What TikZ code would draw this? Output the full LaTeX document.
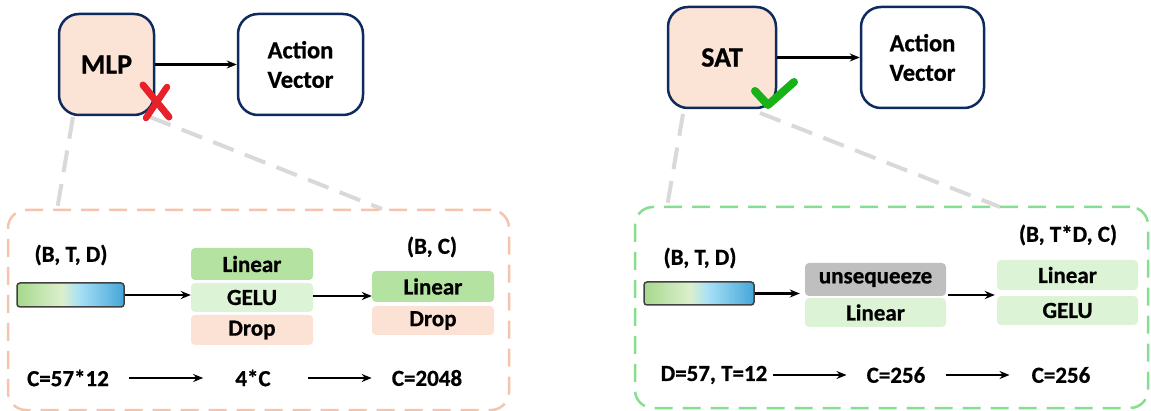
\documentclass[tikz,border=0pt]{standalone}
\usepackage{fontspec}
\setmainfont{Carlito}[BoldFeatures={FakeBold=0.7}]
\usetikzlibrary{arrows.meta}

\definecolor{navy}{HTML}{0E2A5E}
\definecolor{peach}{HTML}{FBE3D6}
\definecolor{peachline}{HTML}{F5C4AC}
\definecolor{greenline}{HTML}{86DE8E}
\definecolor{guidegray}{HTML}{D9D9D9}
\definecolor{lindark}{HTML}{B4E2A1}
\definecolor{linlight}{HTML}{DDF3D5}
\definecolor{dropc}{HTML}{FBE2D5}
\definecolor{unsq}{HTML}{BFBFBF}
\definecolor{barg}{HTML}{A6D98C}
\definecolor{barp}{HTML}{DCEFCD}
\definecolor{barl}{HTML}{A8E0F6}
\definecolor{barb}{HTML}{45A6D8}
\definecolor{crossred}{HTML}{E8202A}
\definecolor{checkgreen}{HTML}{16B216}

% feature tensor bar: green -> pale -> light blue -> blue
\pgfdeclarehorizontalshading{featbar}{100bp}{color(0bp)=(barg); color(25bp)=(barg); color(46bp)=(barp); color(54bp)=(barl); color(75bp)=(barb); color(100bp)=(barb)}

\tikzset{
  txt/.style={font=\fontsize{23}{28}\selectfont\bfseries, inner sep=0pt},
  model/.style={draw=navy, line width=2.5pt, rounded corners=20pt, fill=peach,
    font=\fontsize{28}{32}\selectfont\bfseries, inner sep=0pt},
  outbox/.style={draw=navy, line width=2.5pt, rounded corners=20pt, fill=white,
    align=center, font=\fontsize{24.5}{29.5}\selectfont\bfseries, inner sep=0pt},
  layer/.style={rounded corners=4pt, inner sep=0pt,
    font=\fontsize{23}{28}\selectfont\bfseries},
  panel/.style={dashed, dash pattern=on 18pt off 10pt, line width=2.5pt, rounded corners=18pt},
  guide/.style={draw=guidegray, line width=4pt, dash pattern=on 22pt off 12pt},
  feat/.style={draw=black!75, line width=1.5pt, rounded corners=3pt, shading=featbar},
  arr/.style={-{Stealth[length=10pt,width=8pt]}, line width=2.6pt},
}

\begin{document}
\begin{tikzpicture}[x=1pt,y=-1pt]
\useasboundingbox (0,0) rectangle (1151,411);

% ---------- guide lines from the models down to their detail panels ----------
\coordinate (gLa) at (73,117);   \coordinate (gLb) at (57,210);
\coordinate (gLc) at (150,117);  \coordinate (gLd) at (382,209);
\coordinate (gRa) at (683,114);  \coordinate (gRb) at (667,207);
\coordinate (gRc) at (760,113);  \coordinate (gRd) at (1000,207);
\draw[guide] (gLa) -- (gLb);
\draw[guide] (gLc) -- (gLd);
\draw[guide] (gRa) -- (gRb);
\draw[guide] (gRc) -- (gRd);

% ---------- detail panels ----------
\node[panel, draw=peachline, minimum width=501pt, minimum height=200pt] (panelL) at (258.5,310) {};
\node[panel, draw=greenline, minimum width=513pt, minimum height=201pt] (panelR) at (891.5,307.5) {};

% ---------- top row: model -> action vector ----------
\node[model, minimum width=95pt, minimum height=101pt] (mlp) at (106.5,64.5) {MLP};
\node[outbox, minimum width=125pt, minimum height=101pt] (avL) at (300.5,64.5) {Action\\Vector};
\draw[arr] (mlp) -- (avL);

\node[model, minimum width=108pt, minimum height=101pt] (sat) at (722,57.5) {SAT};
\node[outbox, minimum width=123pt, minimum height=101pt] (avR) at (922.5,57.5) {Action\\Vector};
\draw[arr] (sat) -- (avR);

% red cross on the MLP box
\coordinate (xa) at (143,85);  \coordinate (xb) at (169,117);
\coordinate (xc) at (167,87);  \coordinate (xd) at (146,118);
\draw[crossred, line width=7pt, line cap=round] (xa) -- (xb);
\draw[crossred, line width=6.5pt, line cap=round] (xc) -- (xd);

% green check on the SAT box
\coordinate (ca) at (755,91);  \coordinate (cb) at (768,105);  \coordinate (cc) at (794,82);
\draw[checkgreen, line width=8pt, line cap=round, line join=round] (ca) -- (cb) -- (cc);

% ---------- left panel: MLP head ----------
\node[txt] (shpL) at (71,255) {(B, T, D)};
\node[feat, minimum width=107pt, minimum height=24pt] (barL) at (70.5,295) {};

\node[layer, fill=lindark,  minimum width=122pt, minimum height=32pt] (l1a) at (252,264)   {Linear};
\node[layer, fill=linlight, minimum width=122pt, minimum height=29pt] (l1b) at (252,297.5) {GELU};
\node[layer, fill=dropc,    minimum width=122pt, minimum height=30pt] (l1c) at (252,330)   {Drop};

\node[txt] (shpL2) at (432,247) {(B, C)};
\node[layer, fill=lindark, minimum width=122pt, minimum height=31pt] (l2a) at (433,286.5) {Linear};
\node[layer, fill=dropc,   minimum width=122pt, minimum height=29pt] (l2b) at (433,320.5) {Drop};

\draw[arr] (barL.east) -- (barL.east -| l1b.west);
\draw[arr] (l1b.east |- 0,296) -- (l2a.west |- 0,296);

\node[txt] (dL1) at (68,378)  {C=57*12};
\node[txt] (dL2) at (253,378) {4*C};
\node[txt] (dL3) at (427,378) {C=2048};
\draw[arr, shorten <=20pt, shorten >=32pt] (dL1) -- (dL2);
\draw[arr, shorten <=37pt, shorten >=20pt] (dL2) -- (dL3);

% ---------- right panel: SAT head ----------
\node[txt] (shpR) at (700,258) {(B, T, D)};
\node[feat, minimum width=110pt, minimum height=23pt] (barR) at (699,293.5) {};

\node[layer, fill=unsq,     minimum width=141pt, minimum height=33pt] (r1a) at (875.5,279.5) {unsequeeze};
\node[layer, fill=linlight, minimum width=141pt, minimum height=29pt] (r1b) at (875.5,312.5) {Linear};

\node[txt] (shpR2) at (1068,235) {(B, T*D, C)};
\node[layer, fill=linlight, minimum width=141pt, minimum height=30pt] (r2a) at (1067.5,275)   {Linear};
\node[layer, fill=linlight, minimum width=141pt, minimum height=29pt] (r2b) at (1067.5,310.5) {GELU};

\draw[arr, shorten >=5pt] (barR.east) -- (barR.east -| r1a.west);
\draw[arr, shorten <=2pt, shorten >=2pt] (r1a.east |- 0,295) -- (r2a.west |- 0,295);

\node[txt] (dR1) at (714,375)  {D=57, T=12};
\node[txt] (dR2) at (896,375)  {C=256};
\node[txt] (dR3) at (1061,375) {C=256};
\draw[arr, shorten <=6pt, shorten >=20pt] (dR1) -- (dR2);
\draw[arr, shorten <=20pt, shorten >=22pt] (dR2) -- (dR3);
\end{tikzpicture}
\end{document}
